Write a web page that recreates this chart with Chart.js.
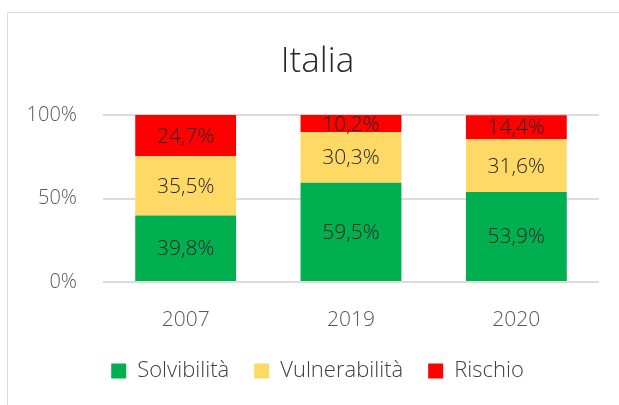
<!DOCTYPE html>
<html>
<head>
<meta charset="utf-8">
<script src="https://cdn.jsdelivr.net/npm/chart.js@4/dist/chart.umd.min.js"></script>
<style>
  html, body { margin: 0; padding: 0; background: #fff; }
  #wrap { width: 619px; height: 405px; position: relative; }
</style>
</head>
<body>
<div id="wrap"><canvas id="italia"></canvas></div>
<script>
// data
const anni = ["2007", "2019", "2020"];
const solvibilita = [39.8, 59.5, 53.9];
const vulnerabilita = [35.5, 30.3, 31.6];
const rischio = [24.7, 10.2, 14.4];
const yTicks = [0, 50, 100];

const fontFam = "'Open Sans', 'Noto Sans', sans-serif";

// outer frame of the excel chart, it starts a bit in and runs off the right/bottom
const framePlugin = {
    id: "frame",
    beforeDraw(chart){
        const c = chart.ctx;
        c.save();
        c.fillStyle = "#fff";
        c.fillRect(0, 0, chart.width, chart.height);
        c.strokeStyle = "#d9d9d9";
        c.lineWidth = 1;
        c.beginPath();
        c.moveTo(7.5, chart.height + 2);
        c.lineTo(7.5, 12.5);
        c.lineTo(chart.width + 2, 12.5);
        c.stroke();
        c.restore();
    }
};

// value labels in the middle of each segment
const labelPlugin = {
    id: "segLabels",
    afterDatasetsDraw(chart){
        const c = chart.ctx;
        c.save();
        c.font = "300 21px " + fontFam;
        c.fillStyle = "#262626";
        c.textAlign = "center";
        c.textBaseline = "middle";
        chart.data.datasets.forEach((ds, i) => {
            const meta = chart.getDatasetMeta(i);
            meta.data.forEach((bar, j) => {
                const txt = ds.data[j].toFixed(1).replace(".", ",") + "%";
                c.fillText(txt, bar.x, (bar.y + bar.base) / 2 + 1);
            });
        });
        c.restore();
    }
};

const ctx = document.getElementById("italia");
new Chart(ctx, {
    type: "bar",
    data: {
        labels: anni,
        datasets: [{
            label: "Solvibilità",
            data: solvibilita,
            backgroundColor: "#00b050"
        },{
            label: "Vulnerabilità",
            data: vulnerabilita,
            backgroundColor: "#ffd966"
        },{
            label: "Rischio",
            data: rischio,
            backgroundColor: "#ff0000"
        }]
    },
    options: {
        responsive: true,
        maintainAspectRatio: false,
        animation: false,
        datasets: {
            bar: { barPercentage: 0.61, categoryPercentage: 1 }
        },
        layout: { padding: { left: 20, right: 4, top: 0, bottom: 13 } },
        plugins: {
            title: {
                display: true,
                text: "Italia",
                color: "#262626",
                font: { family: fontFam, size: 35, weight: "300", lineHeight: 1.2 },
                padding: { top: 41, bottom: 32 }
            },
            legend: {
                position: "bottom",
                labels: {
                    color: "#404040",
                    boxWidth: 15,
                    boxHeight: 15,
                    padding: 25,
                    font: { family: fontFam, size: 22, weight: "300" }
                }
            },
            tooltip: { enabled: false }
        },
        scales: {
            x: {
                stacked: true,
                afterFit(scale){ scale.height = 53; },
                grid: { display: false, drawTicks: false },
                border: { display: false },
                ticks: {
                    color: "#595959",
                    padding: 25,
                    font: { family: fontFam, size: 21, weight: "300" }
                }
            },
            y: {
                stacked: true,
                min: 0,
                max: 100,
                afterFit(scale){ scale.width = 83; },
                afterBuildTicks(scale){ scale.ticks = yTicks.map(v => ({value: v})); },
                grid: { color: "#dcdcdc", lineWidth: 2, drawTicks: false },
                border: { display: false },
                ticks: {
                    color: "#595959",
                    padding: 26,
                    font: { family: fontFam, size: 20, weight: "300" },
                    callback: v => v + "%"
                }
            },
            // empty strip on the right so the plot ends where excel's does
            yRight: {
                position: "right",
                display: true,
                afterFit(scale){ scale.width = 16; },
                grid: { display: false, drawTicks: false },
                border: { display: false },
                ticks: { display: false }
            }
        }
    },
    plugins: [framePlugin, labelPlugin]
});
</script>
</body>
</html>
